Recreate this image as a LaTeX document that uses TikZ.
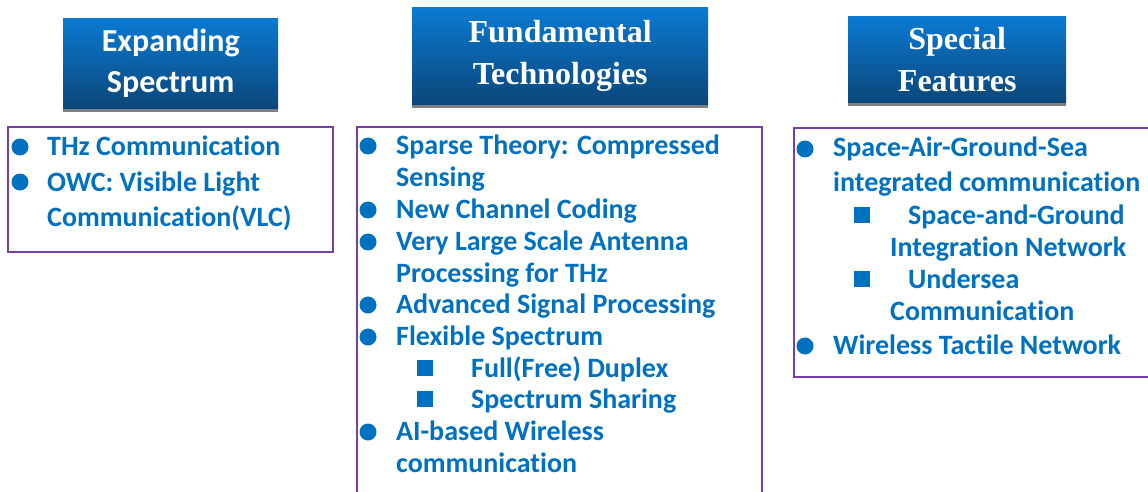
\documentclass[tikz,border=0pt]{standalone}
\usepackage{fontspec}
\setmainfont{Carlito}[Ligatures={NoCommon,NoContextual}, Contextuals={NoAlternate}]
\newfontfamily\hdrserif{Liberation Serif}
\newcommand\nti{t\kern0pt i}
\definecolor{tblue}{HTML}{0070C0}
\definecolor{purp}{HTML}{7A3EAA}
\definecolor{htop}{HTML}{0A7AD2}
\definecolor{hbot}{HTML}{0B4679}
\definecolor{shgray}{HTML}{7F7F7F}
\begin{document}
\begin{tikzpicture}[x=1pt,y=-1pt,
  hdr/.style={anchor=north west, inner sep=0pt, top color=htop, bottom color=hbot, text=white, align=center},
  hsans/.style={font=\fontsize{32}{41}\selectfont\bfseries},
  hser/.style={font=\hdrserif\fontsize{32}{42}\selectfont\bfseries},
  pbox/.style={draw=purp, line width=2pt},
  itm/.style={anchor=base west, inner sep=0pt, text=tblue, font=\fontsize{28}{33}\selectfont\bfseries},
  bul/.style={circle, fill=tblue, inner sep=0pt, minimum size=17pt},
  sq/.style={rectangle, fill=tblue, inner sep=0pt, minimum size=16pt}]
\useasboundingbox (0,0) rectangle (1148,492);
\clip (0,0) rectangle (1148,492);

% headers
\node[hdr, hsans, minimum width=215pt, minimum height=91pt] (h1) at (63,18) {Expanding\\Spectrum};
\fill[shgray] (h1.south west) rectangle ([yshift=-3pt]h1.south east);
\node[hdr, hser, minimum width=296pt, minimum height=98pt] (h2) at (412,7) {Fundamental\\Technologies};
\fill[shgray] (h2.south west) rectangle ([yshift=-3pt]h2.south east);
\node[hdr, hser, minimum width=218pt, minimum height=87pt] (h3) at (848,16) {Special\\Features};
\fill[shgray] (h3.south west) rectangle ([yshift=-3pt]h3.south east);

% boxes
\draw[pbox] (8,127) rectangle (333,252);
\draw[pbox] (357,127) rectangle (762,500);
\draw[pbox] (794,128) rectangle (1160,377);

% left items
\node[bul] (lb1) at (20,147) {};
\node[itm] (l1) at (47,155) {THz Communica\nti on};
\node[bul] (lb2) at (20,182) {};
\node[itm] (l2) at (47,191) {OWC: Visible Light};
\node[itm] (l3) at (47,226) {Communica\nti on(VLC)};

% middle items
\node[bul] (mb1) at (368,146) {};
\node[itm] (m1) at (396,154) {Sparse Theory: Compressed};
\node[itm] (m2) at (396,186) {Sensing};
\node[bul] (mb2) at (368,210) {};
\node[itm] (m3) at (396,218) {New Channel Coding};
\node[bul] (mb3) at (368,242) {};
\node[itm] (m4) at (396,250) {Very Large Scale Antenna};
\node[itm] (m5) at (396,282) {Processing for THz};
\node[bul] (mb4) at (368,305) {};
\node[itm] (m6) at (396,313) {Advanced Signal Processing};
\node[bul] (mb5) at (368,337) {};
\node[itm] (m7) at (396,345) {Flexible Spectrum};
\node[sq] (ms1) at (425,368) {};
\node[itm] (m8) at (471,377) {Full(Free) Duplex};
\node[sq] (ms2) at (425,399) {};
\node[itm] (m9) at (471,408) {Spectrum Sharing};
\node[bul] (mb6) at (368,432) {};
\node[itm] (m10) at (396,440) {AI-based Wireless};
\node[itm] (m11) at (396,472) {communica\nti on};

% right items
\node[bul] (rb1) at (805,149) {};
\node[itm] (r1) at (833,157) {Space-Air-Ground-Sea};
\node[itm] (r2) at (833,191) {integrated communica\nti on};
\node[sq] (rs1) at (862,215) {};
\node[itm] (r3) at (908,224) {Space-and-Ground};
\node[itm] (r4) at (890,256) {Integra\nti on Network};
\node[sq] (rs2) at (862,279) {};
\node[itm] (r5) at (908,288) {Undersea};
\node[itm] (r6) at (890,320) {Communica\nti on};
\node[bul] (rb2) at (805,346) {};
\node[itm] (r7) at (833,354) {Wireless Tac\nti le Network};
\end{tikzpicture}
\end{document}
